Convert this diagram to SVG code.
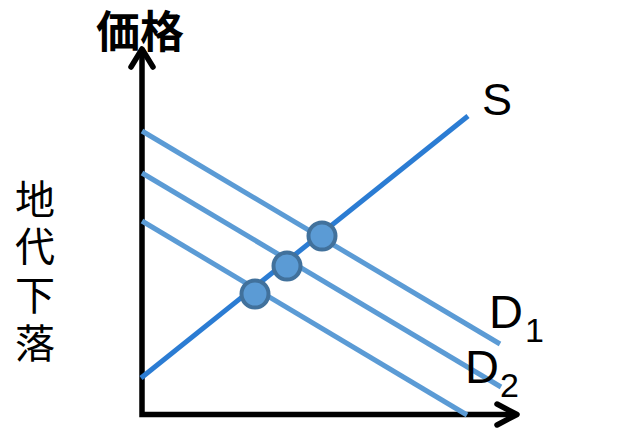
<svg xmlns="http://www.w3.org/2000/svg" width="644" height="430" viewBox="0 0 644 430">
<style>
.axis{stroke:#000;stroke-width:5.5;fill:none}
.head{stroke:#000;stroke-width:5.5;fill:none;stroke-linecap:round;stroke-linejoin:round}
.s{stroke:#2b7cd3;stroke-width:5;fill:none}
.d{stroke:#5b9bd5;stroke-width:5;fill:none}
.pt{fill:#5b9bd5;stroke:#41719c;stroke-width:4}
.lbl{font-family:"Liberation Sans","DejaVu Sans",sans-serif;fill:#000}
.cjk{font-family:"Noto Sans CJK JP",sans-serif;fill:#000}
</style>
<rect width="644" height="430" fill="#fff"/>
<g id="axes">
<polyline class="axis" points="142,50 142,414.5 516,414.5"/>
<polyline class="head" points="131,67 142,49 153,67"/>
<polyline class="head" points="497,404 517,414.5 497,425"/>
</g>
<g id="connectors">
<line id="S" class="s" x1="141" y1="378" x2="468" y2="116"/>
<line id="D1" class="d" x1="142" y1="131" x2="500" y2="344"/>
<line id="D2" class="d" x1="142" y1="173" x2="501" y2="387"/>
<line id="D3" class="d" x1="142" y1="221" x2="467" y2="415"/>
</g>
<g id="p1"><circle class="pt" cx="322" cy="236" r="13.5"/></g>
<g id="p2"><circle class="pt" cx="287" cy="266" r="13.5"/></g>
<g id="p3"><circle class="pt" cx="255" cy="294" r="13.5"/></g>
<g id="labels">
<text class="cjk" x="96" y="48" font-size="44" font-weight="bold">価格</text>
<g class="cjk" font-size="40" text-anchor="middle">
<text x="35" y="214">地</text>
<text x="35" y="261">代</text>
<text x="35" y="310">下</text>
<text x="35" y="358">落</text>
</g>
<text class="lbl" x="482" y="115" font-size="45">S</text>
<text class="lbl" x="489" y="328" font-size="47">D</text>
<text class="lbl" x="525" y="342" font-size="34">1</text>
<text class="lbl" x="465" y="383" font-size="47">D</text>
<text class="lbl" x="500" y="397" font-size="34">2</text>
</g>
</svg>
